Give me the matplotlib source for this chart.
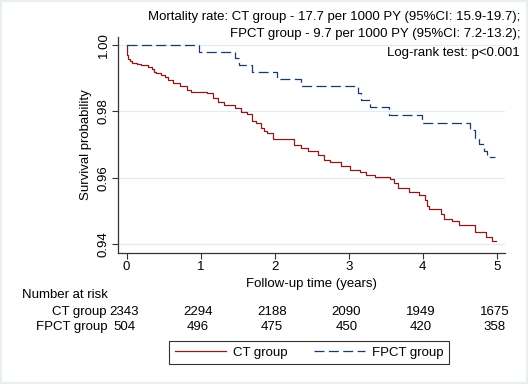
import matplotlib
matplotlib.use("Agg")
import matplotlib.pyplot as plt
from matplotlib.patches import Rectangle

plt.rcParams['font.family'] = ['Liberation Sans', 'DejaVu Sans']

# Kaplan-Meier steps (time in years, survival)
ctTimes = [0, 0.005, 0.01, 0.02, 0.04, 0.07, 0.14, 0.2, 0.29, 0.34, 0.37, 0.40, 0.47,
           0.52, 0.56, 0.63, 0.72, 0.81, 0.87, 1.08, 1.17, 1.24, 1.32, 1.46, 1.55,
           1.62, 1.69, 1.75, 1.81, 1.86, 1.90, 1.98, 2.26, 2.35, 2.45, 2.58, 2.66,
           2.75, 2.90, 3.02, 3.15, 3.23, 3.35, 3.56, 3.61, 3.66, 3.81, 3.95, 4.03,
           4.06, 4.09, 4.24, 4.28, 4.40, 4.49, 4.70, 4.85, 4.94, 4.99]
ctSurv = [1.0, 0.9985, 0.9970, 0.9959, 0.9952, 0.9947, 0.9944, 0.9941, 0.9935, 0.9928,
          0.9920, 0.9915, 0.9908, 0.9902, 0.9895, 0.9886, 0.9875, 0.9865, 0.9857,
          0.9854, 0.9840, 0.9829, 0.9820, 0.9810, 0.9799, 0.9791, 0.9771, 0.9764,
          0.9750, 0.9741, 0.9734, 0.9717, 0.9699, 0.9689, 0.9679, 0.9669, 0.9654,
          0.9646, 0.9636, 0.9624, 0.9617, 0.9607, 0.9602, 0.9596, 0.9584, 0.9569,
          0.9556, 0.9549, 0.9534, 0.9514, 0.9506, 0.9489, 0.9476, 0.9469, 0.9456,
          0.9435, 0.9422, 0.9408, 0.9408]

fpTimes = [0, 0.98, 1.46, 1.52, 1.69, 2.03, 2.36, 3.13, 3.17, 3.28, 3.54, 3.99,
           4.64, 4.70, 4.76, 4.83, 4.87, 4.98]
fpSurv = [1.0, 0.9980, 0.9960, 0.9940, 0.9920, 0.9898, 0.9877, 0.9856, 0.9835,
          0.9812, 0.9789, 0.9765, 0.9744, 0.9720, 0.9702, 0.9681, 0.9663, 0.9663]

# Number at risk table
riskTimes = [0, 1, 2, 3, 4, 5]
ctRisk = [2343, 2294, 2188, 2090, 1949, 1675]
fpRisk = [504, 496, 475, 450, 420, 358]

annotLines = ["Mortality rate: CT group - 17.7 per 1000 PY (95%CI: 15.9-19.7);",
              "FPCT group - 9.7 per 1000 PY (95%CI: 7.2-13.2);",
              "Log-rank test: p<0.001"]

ctColor = "#8b1a1a"
fpColor = "#1a3a6f"
W, H = 528, 384
fs = 9.5

fig = plt.figure(figsize=(W / 100, H / 100), dpi=100)
fig.patch.set_facecolor("white")
fig.add_artist(Rectangle((0.002, 0.002), 0.996, 0.995, transform=fig.transFigure,
                         fill=False, edgecolor="#e3ecef", linewidth=1.2))

ax = fig.add_axes([118 / W, 1 - 253 / H, (505 - 118) / W, (253 - 37) / H])

ax.step(ctTimes, ctSurv, where="post", color=ctColor, linewidth=0.9, label="CT group")
ax.step(fpTimes, fpSurv, where="post", color=fpColor, linewidth=0.9,
        dashes=(8, 3.5), label="FPCT group")

ax.set_xlim(-0.117, 5.11)
ax.set_ylim(0.93729, 1.0024)
ax.set_yticks([0.94, 0.96, 0.98, 1.00])
ax.set_yticklabels(["0.94", "0.96", "0.98", "1.00"], rotation=90, va="center")
ax.set_xticks(riskTimes)
ax.grid(axis="y", color="#e3ecef", linewidth=0.9)
ax.set_axisbelow(True)
for s in ["top", "right"]:
    ax.spines[s].set_visible(False)
for s in ["left", "bottom"]:
    ax.spines[s].set_color("#333333")
    ax.spines[s].set_linewidth(0.9)
ax.tick_params(labelsize=fs, length=4, width=0.8, color="#333333", pad=2)
ax.set_ylabel("Survival probability", fontsize=fs, labelpad=4)
ax.set_xlabel("Follow-up time (years)", fontsize=fs, labelpad=3)

# top right text
for i, line in enumerate(annotLines):
    fig.text(520 / W, 1 - [17, 34, 53][i] / H, line, ha="right", va="center", fontsize=fs)

# number at risk rows
fig.text(22 / W, 1 - 295 / H, "Number at risk", ha="left", va="center", fontsize=fs)
fig.text(107 / W, 1 - 312 / H, "CT group", ha="right", va="center", fontsize=fs)
fig.text(107 / W, 1 - 327 / H, "FPCT group", ha="right", va="center", fontsize=fs)
for t, a, b in zip(riskTimes, ctRisk, fpRisk):
    x = ax.transData.transform((t, 0))[0] / W - 2.5 / W
    fig.text(x, 1 - 312 / H, str(a), ha="center", va="center", fontsize=fs)
    fig.text(x, 1 - 327 / H, str(b), ha="center", va="center", fontsize=fs)

leg = fig.legend(loc="center", bbox_to_anchor=(309 / W, 1 - 352.5 / H), ncol=2,
                 fontsize=fs, frameon=True, fancybox=False, handlelength=3.9,
                 columnspacing=2.0, borderpad=0.4, handletextpad=0.5)
leg.get_frame().set_edgecolor("black")
leg.get_frame().set_linewidth(0.8)

fig.savefig("out.png", dpi=100)
